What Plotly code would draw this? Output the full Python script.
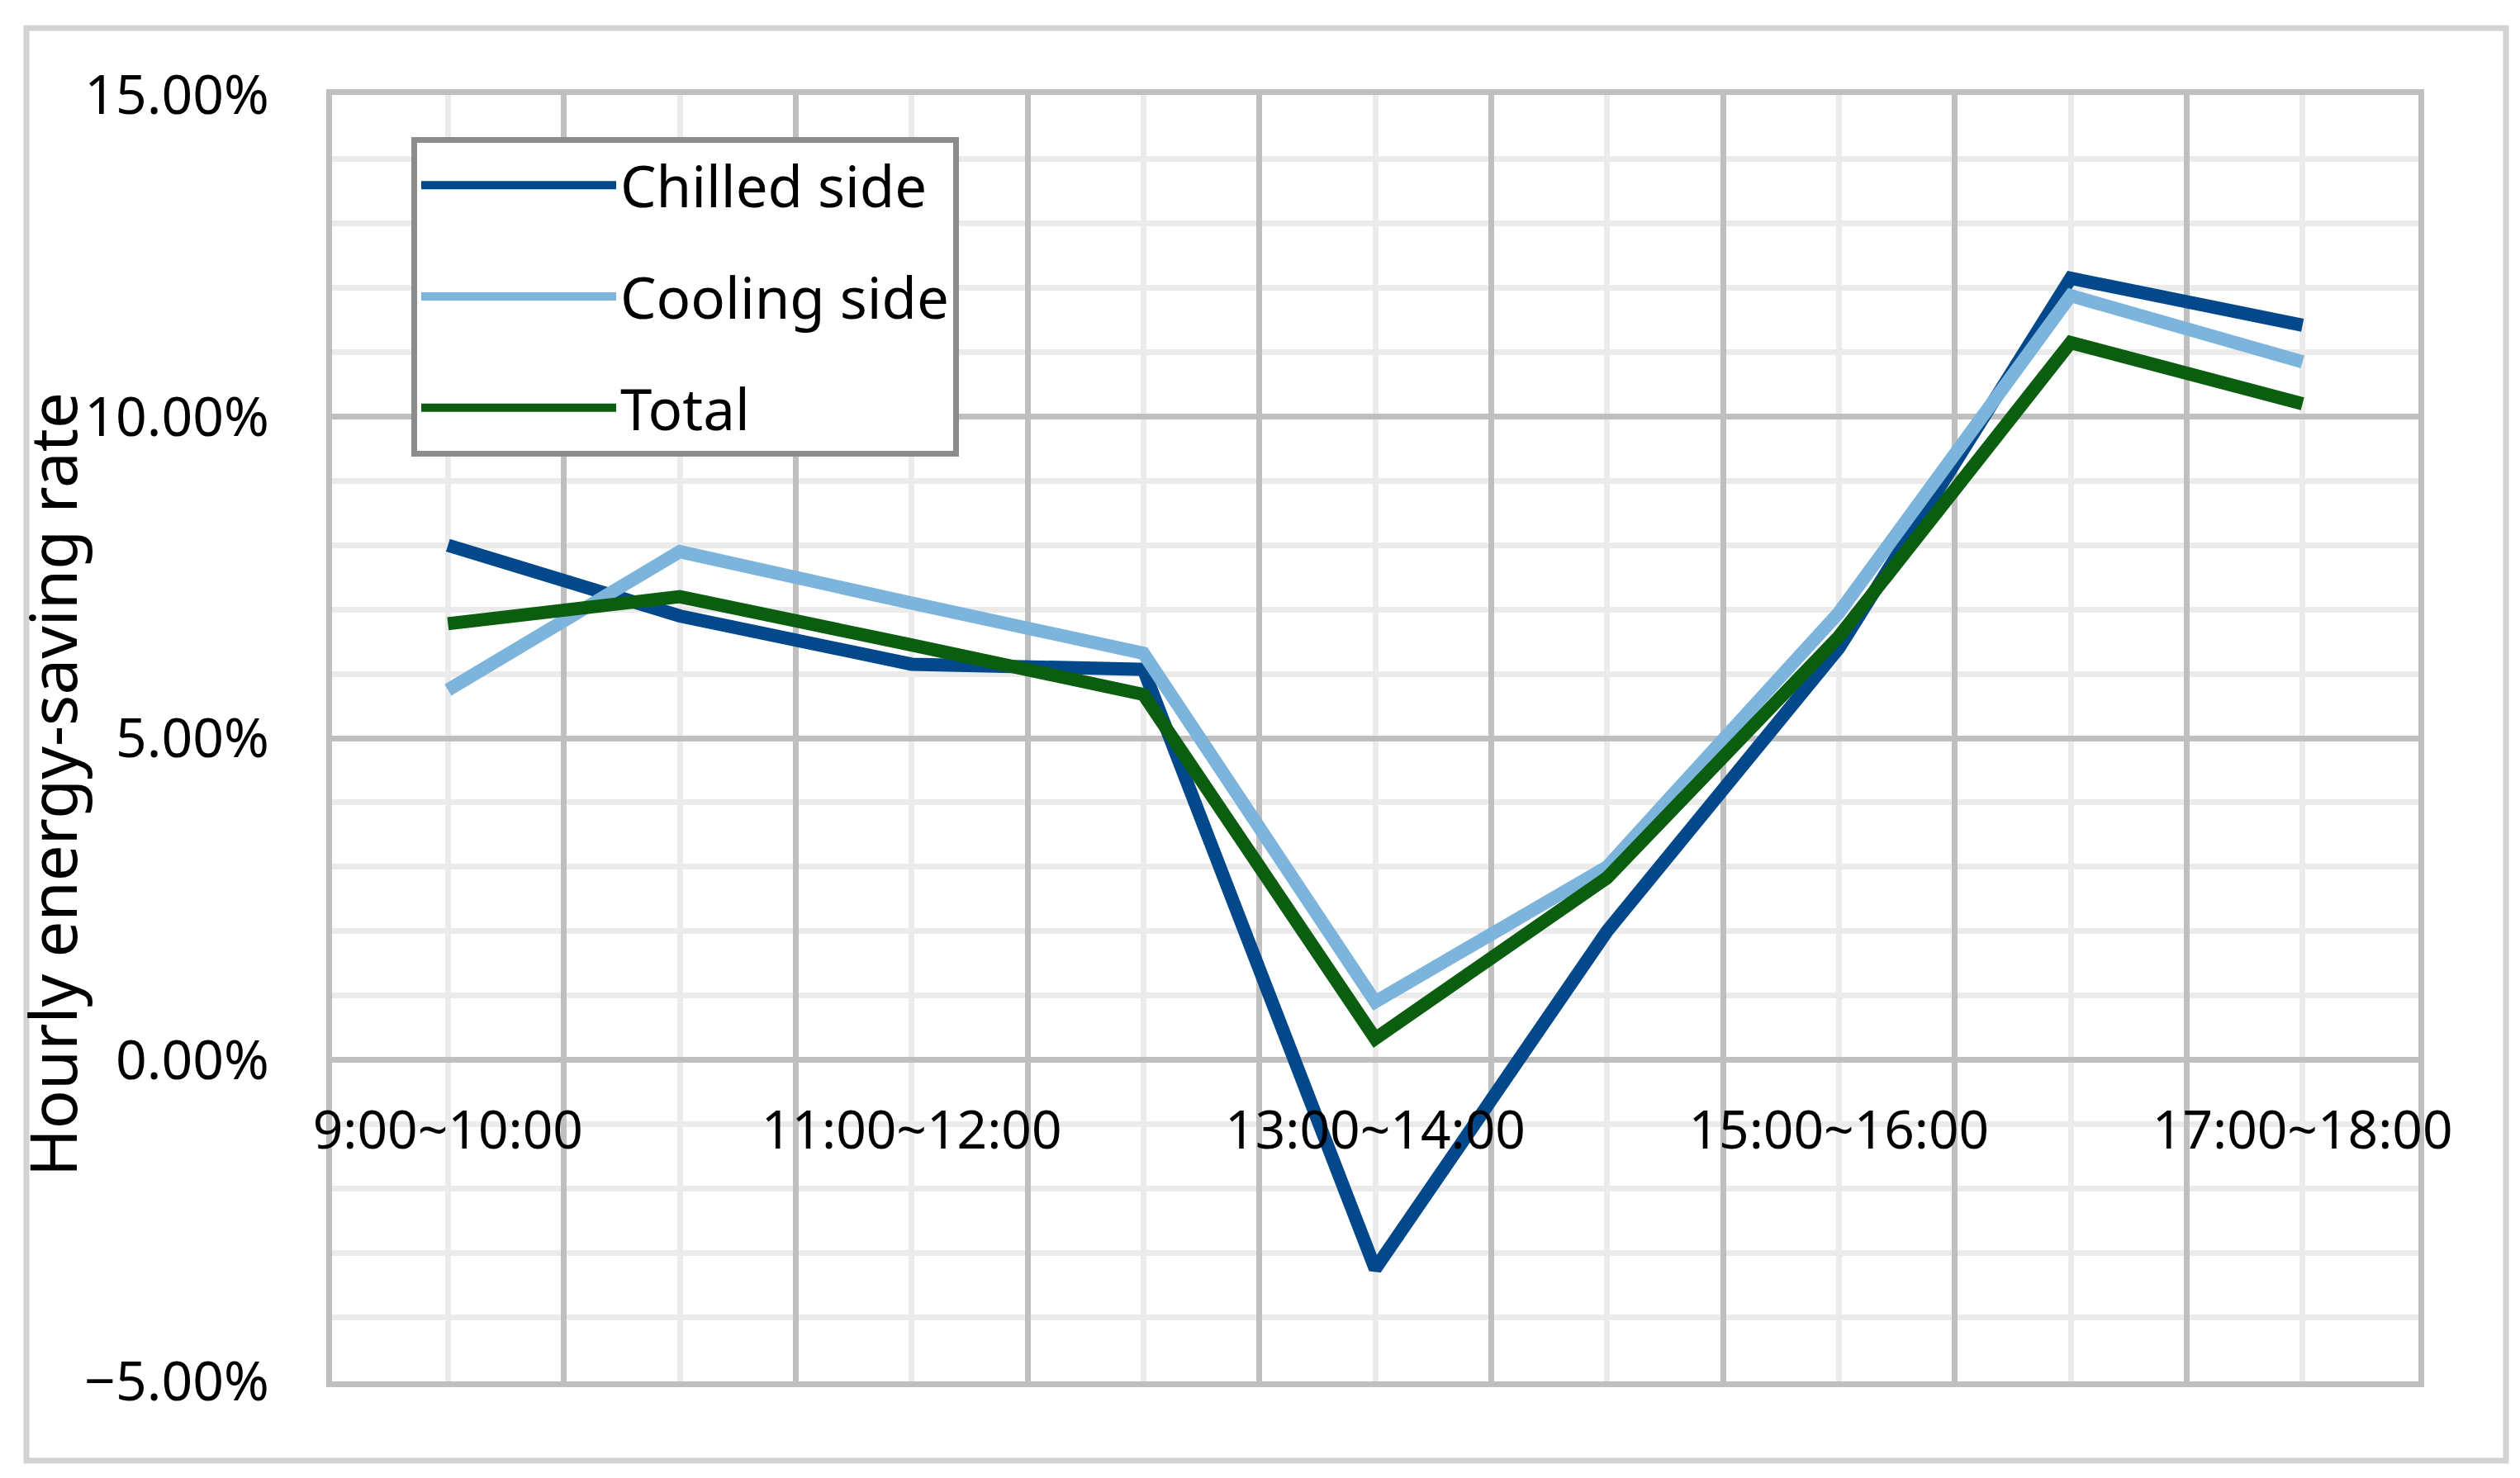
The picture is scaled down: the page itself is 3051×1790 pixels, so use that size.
import plotly.graph_objects as go

categories = ["9:00~10:00", "10:00~11:00", "11:00~12:00", "12:00~13:00", "13:00~14:00",
              "14:00~15:00", "15:00~16:00", "16:00~17:00", "17:00~18:00"]
chilled_side = [8.00, 6.90, 6.15, 6.07, -3.25, 2.00, 6.40, 12.15, 11.42]
cooling_side = [5.75, 7.90, 7.10, 6.32, 0.90, 3.00, 6.95, 11.88, 10.85]
total = [6.78, 7.20, 6.45, 5.68, 0.33, 2.83, 6.58, 11.15, 10.20]
series_names = ["Chilled side", "Cooling side", "Total"]
series_colors = ["#03488a", "#7cb4dc", "#0b5d0f"]
y_ticks = [-0.05, 0.0, 0.05, 0.10, 0.15]

W, H = 3051, 1790
L, R, T, B = 394, 131, 107, 125
pw, ph = W - L - R, H - T - B

FONT = "Noto Sans"
MAJOR = "#bfbfbf"
MINOR = "#ebebeb"

fig = go.Figure()
# invisible helper on the grid axis so that the category-boundary gridlines render
fig.add_trace(go.Scatter(
    x=list(range(len(categories))), y=[None] * len(categories),
    xaxis="x2", yaxis="y", mode="lines", showlegend=False, hoverinfo="skip",
))
for i, (name, vals) in enumerate(zip(series_names, [chilled_side, cooling_side, total])):
    fig.add_trace(go.Scatter(
        x=categories, y=[v / 100 for v in vals], mode="lines", name=name,
        line=dict(color=series_colors[i], width=16),
        legendgroup=name,
    ))

def px_x(px):
    return (px - L) / pw

def px_y(py):
    return (H - B - py) / ph

fig.update_layout(
    width=W, height=H,
    margin=dict(l=L, r=R, t=T, b=B),
    paper_bgcolor="white", plot_bgcolor="white",
    font=dict(family=FONT, size=64, color="#000000"),
    showlegend=True,
    legend=dict(
        x=px_x(490), y=px_y(158), xanchor="left", yanchor="top",
        bgcolor="white", bordercolor="#8c8c8c", borderwidth=7,
        font=dict(family=FONT, size=69, color="#000000"),
        tracegroupgap=42, itemwidth=236,
    ),
    xaxis=dict(
        type="category", categoryorder="array", categoryarray=categories,
        range=[-0.5, len(categories) - 0.5],
        anchor="free", position=0.25,
        showgrid=False, zeroline=False, showline=False,
        tickmode="array", tickvals=categories[::2], ticks="",
        ticklabelstandoff=42,
        tickfont=dict(family=FONT, size=64, color="#000000"),
    ),
    xaxis2=dict(
        overlaying="x", type="linear", anchor="y", side="bottom",
        range=[-0.5, len(categories) - 0.5],
        tick0=-0.5, dtick=1, showticklabels=False, ticks="",
        showgrid=True, gridcolor=MAJOR, gridwidth=7,
        minor=dict(tick0=0, dtick=0.5, showgrid=True, gridcolor=MINOR, gridwidth=7),
        showline=True, mirror=True, linecolor=MAJOR, linewidth=7,
        zeroline=False,
    ),
    yaxis=dict(
        range=[-0.05, 0.15], tickmode="array", tickvals=y_ticks, tickformat=".2%",
        showgrid=True, gridcolor=MAJOR, gridwidth=7,
        minor=dict(dtick=0.01, showgrid=True, gridcolor=MINOR, gridwidth=7),
        showline=True, mirror=True, linecolor=MAJOR, linewidth=7,
        zeroline=False, ticks="", ticklabelstandoff=56,
        tickfont=dict(family=FONT, size=66, color="#000000"),
    ),
    annotations=[dict(
        text="Hourly energy-saving rate", textangle=-90,
        xref="paper", yref="paper", x=px_x(55), y=px_y(942),
        xanchor="center", yanchor="middle", showarrow=False,
        font=dict(family=FONT, size=78, color="#000000"),
    )],
    shapes=[dict(
        type="rect", xref="paper", yref="paper", layer="below",
        x0=px_x(24), x1=px_x(3026), y0=px_y(1761), y1=px_y(26),
        line=dict(color="#d3d3d3", width=7), fillcolor="rgba(0,0,0,0)",
    )],
)

fig.write_html("out.html")
